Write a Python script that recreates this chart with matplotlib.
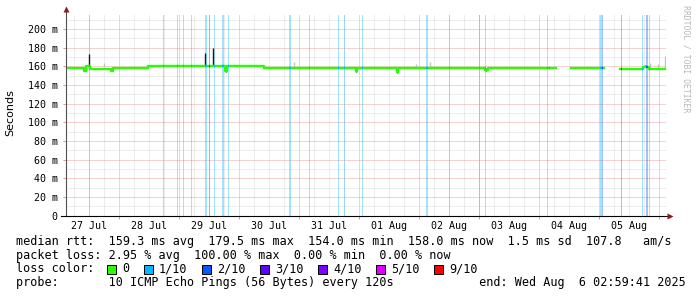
import datetime as dt
import numpy as np
import matplotlib
matplotlib.use('Agg')
import matplotlib.pyplot as plt
import matplotlib.dates as mdates
from matplotlib.patches import Rectangle
from matplotlib.lines import Line2D

MONO = 'DejaVu Sans Mono'
W, H = 697, 297

START = dt.datetime(2025, 7, 27, 2, 59, 41)
SPAN_H = 240  # 10 days

# median rtt as steps: hours since START, value in ms (nan = no data)
med_h = [0.0, 7.2, 8.0, 9.6, 18.0, 18.6, 33.0, 63.6, 64.4, 79.0, 115.8, 116.4,
         132.2, 132.8, 167.8, 168.6, 196.0, 202.2, 215.4, 221.6, 231.0, 233.2]
med_ms = [158.5, 155.0, 160.5, 157.2, 155.0, 158.5, 160.6, 154.5, 160.6, 158.5, 154.5, 158.5,
          153.5, 158.5, 155.5, 158.5, np.nan, 158.5, np.nan, 157.2, 159.6, 157.2]

# packet loss events: hours since START, duration (h), loss level (x/10)
loss_h = [9.3, 38.9, 44.5, 46.8, 50.1, 55.6, 57.2, 59.1, 62.4, 64.7, 89.1, 97.1, 108.7,
          111.3, 118.6, 143.9, 153.1, 165.4, 167.5, 192.3, 193.0, 213.8, 214.6, 221.9,
          230.3, 232.1, 233.4]
loss_w = [0.4, 0.4, 0.4, 0.4, 0.4, 0.8, 0.4, 0.4, 0.8, 0.4, 0.8, 0.4, 0.4,
          0.4, 0.4, 0.8, 0.4, 0.4, 0.4, 0.4, 0.4, 0.8, 0.4, 0.4,
          0.4, 0.8, 0.4]
loss_lvl = [1, 1, 1, 1, 1, 1, 2, 1, 1, 1, 1, 1, 1,
            1, 1, 1, 1, 1, 1, 1, 1, 1, 2, 2,
            1, 2, 1]

# smoke (spread of the 10 pings) where it shows outside the median line
smoke_h = [7.8, 9.2, 15.4, 18.3, 55.6, 58.8, 64.0, 91.0, 116.0, 132.4, 139.8, 145.4,
           167.9, 184.2, 202.2, 231.8, 233.8, 237.0, 239.6]
smoke_lo = [154.5, 158.0, 159.0, 155.0, 161.0, 161.0, 153.5, 160.5, 154.0, 153.0, 158.5, 158.5,
            155.0, 158.0, 158.0, 159.5, 158.0, 158.0, 158.0]
smoke_hi = [158.0, 173.0, 163.0, 159.0, 174.0, 180.0, 160.5, 164.5, 158.5, 158.5, 162.0, 165.0,
            158.5, 159.5, 159.0, 161.5, 163.0, 162.0, 171.0]
smoke_dark = [1, 1, 0, 1, 1, 1, 1, 0, 1, 1, 0, 0,
              1, 1, 1, 1, 0, 0, 0]

loss_labels = ['0', '1/10', '2/10', '3/10', '4/10', '5/10', '9/10']
loss_colors = ['#26ff00', '#00b8ff', '#0059ff', '#5e00ff', '#7e00ff', '#dd00ff', '#ff0000']

legend_lines = [
    'median rtt:  159.3 ms avg  179.5 ms max  154.0 ms min  158.0 ms now  1.5 ms sd  107.8   am/s',
    'packet loss: 2.95 % avg  100.00 % max  0.00 % min  0.00 % now',
    'loss color:',
    'probe:       10 ICMP Echo Pings (56 Bytes) every 120s            end: Wed Aug  6 02:59:41 2025',
]


def t(h):
    return mdates.date2num(START) + np.asarray(h, dtype=float) / 24.0


fig = plt.figure(figsize=(W / 100, H / 100), dpi=100)
fig.patch.set_facecolor('white')
ax = fig.add_axes([66 / W, (H - 215.5) / H, 600 / W, 200.5 / H])

ax.set_xlim(t(0), t(SPAN_H))
ax.set_ylim(0, 215)

# grid
dot = (0, (1, 1))
ax.set_yticks(range(0, 201, 20))
ax.set_yticks(range(10, 211, 20), minor=True)
ax.grid(which='minor', axis='y', color='#dadada', lw=0.72, ls=dot)
ax.grid(which='major', axis='y', color='#eca4a4', lw=0.72, ls=dot)

ax.xaxis.set_major_locator(mdates.DayLocator())
ax.xaxis.set_minor_locator(mdates.HourLocator(byhour=[6, 12, 18]))
ax.grid(which='minor', axis='x', color='#dadada', lw=0.72, ls=dot)
ax.grid(which='major', axis='x', color='#eca4a4', lw=0.72, ls=dot)
ax.set_axisbelow(True)


def day_label(x, pos):
    d = mdates.num2date(x)
    return d.strftime('%d %b') if d.hour == 12 else ''


ax.xaxis.set_major_formatter(plt.NullFormatter())
ax.xaxis.set_minor_formatter(plt.FuncFormatter(day_label))
ax.yaxis.set_major_formatter(plt.FuncFormatter(lambda v, p: '0' if v == 0 else '%d m' % v))

ax.tick_params(axis='x', which='minor', length=0, pad=4, labelsize=7.2)
ax.tick_params(axis='x', which='major', length=2, color='#e89898', width=0.72)
ax.tick_params(axis='y', which='major', length=2, width=0.72, color='#e89898', pad=4, labelsize=7.2)
ax.tick_params(axis='y', which='minor', length=0)
for lab in ax.get_xticklabels(minor=True) + ax.get_yticklabels():
    lab.set_family(MONO)

# packet loss bars
for h, w, lvl in zip(loss_h, loss_w, loss_lvl):
    ax.axvspan(t(h), t(h + w), color=loss_colors[lvl], alpha=0.37, lw=0, zorder=1)

# smoke
ax.vlines(t(smoke_h), smoke_lo, smoke_hi,
          colors=['#1a1a1a' if d else '#c4c4c4' for d in smoke_dark], lw=1.0, zorder=2)

# median line
xs = t(med_h + [SPAN_H])
ys = med_ms + [med_ms[-1]]
ax.step(xs, ys, where='post', color=loss_colors[0], lw=1.7, zorder=3)

# median coloured by loss level
for h, w, lvl in zip(loss_h, loss_w, loss_lvl):
    i = np.searchsorted(med_h, h, side='right') - 1
    v = med_ms[i]
    if not np.isnan(v):
        ax.plot([t(h), t(h + w)], [v, v], color=loss_colors[lvl], lw=1.7,
                solid_capstyle='butt', zorder=4)

# axes lines and arrows
for s in ['top', 'right', 'left', 'bottom']:
    ax.spines[s].set_visible(False)
ax.add_line(Line2D([0, 0], [0, 1.02], transform=ax.transAxes, color='#505050',
                   lw=0.8, clip_on=False, zorder=5))
ax.add_line(Line2D([-0.008, 1.006], [0, 0], transform=ax.transAxes, color='black',
                   lw=0.8, clip_on=False, zorder=5))
ax.plot([0], [1.03], marker='^', ms=4, color='#8b1a1a', mec='none',
        transform=ax.transAxes, clip_on=False, zorder=6)
ax.plot([1.007], [0], marker='>', ms=4, color='#8b1a1a', mec='none',
        transform=ax.transAxes, clip_on=False, zorder=6)

# labels
fig.text(10 / W, (H - 113) / H, 'Seconds', rotation=90, ha='center', va='center',
         fontsize=8, family='DejaVu Sans')
fig.text(686 / W, (H - 5) / H, 'RRDTOOL / TOBI OETIKER', rotation=270, ha='center',
         va='top', fontsize=5.9, family=MONO, color='#b8b8b8')

# legend text
FS = 8.45
line_y = [241.7, 255.0, 269.0, 282.7]
for txt, y in zip(legend_lines, line_y):
    fig.text(15.5 / W, (H - y) / H, txt, ha='left', va='center', fontsize=FS, family=MONO)

cw = FS / 72 * 100 * 0.602
sq = 9
x = 15.5 + 13 * cw
for lab, col in zip(loss_labels, loss_colors):
    fig.patches.append(Rectangle((x / W, (H - 269 - sq / 2) / H), sq / W, sq / H,
                                 transform=fig.transFigure, facecolor=col,
                                 edgecolor='black', lw=0.7))
    fig.text((x + 15) / W, (H - 269) / H, lab, ha='left', va='center',
             fontsize=FS, family=MONO)
    x = x + 15 + len(lab) * cw + 14.7

fig.savefig('out.png', dpi=100)
